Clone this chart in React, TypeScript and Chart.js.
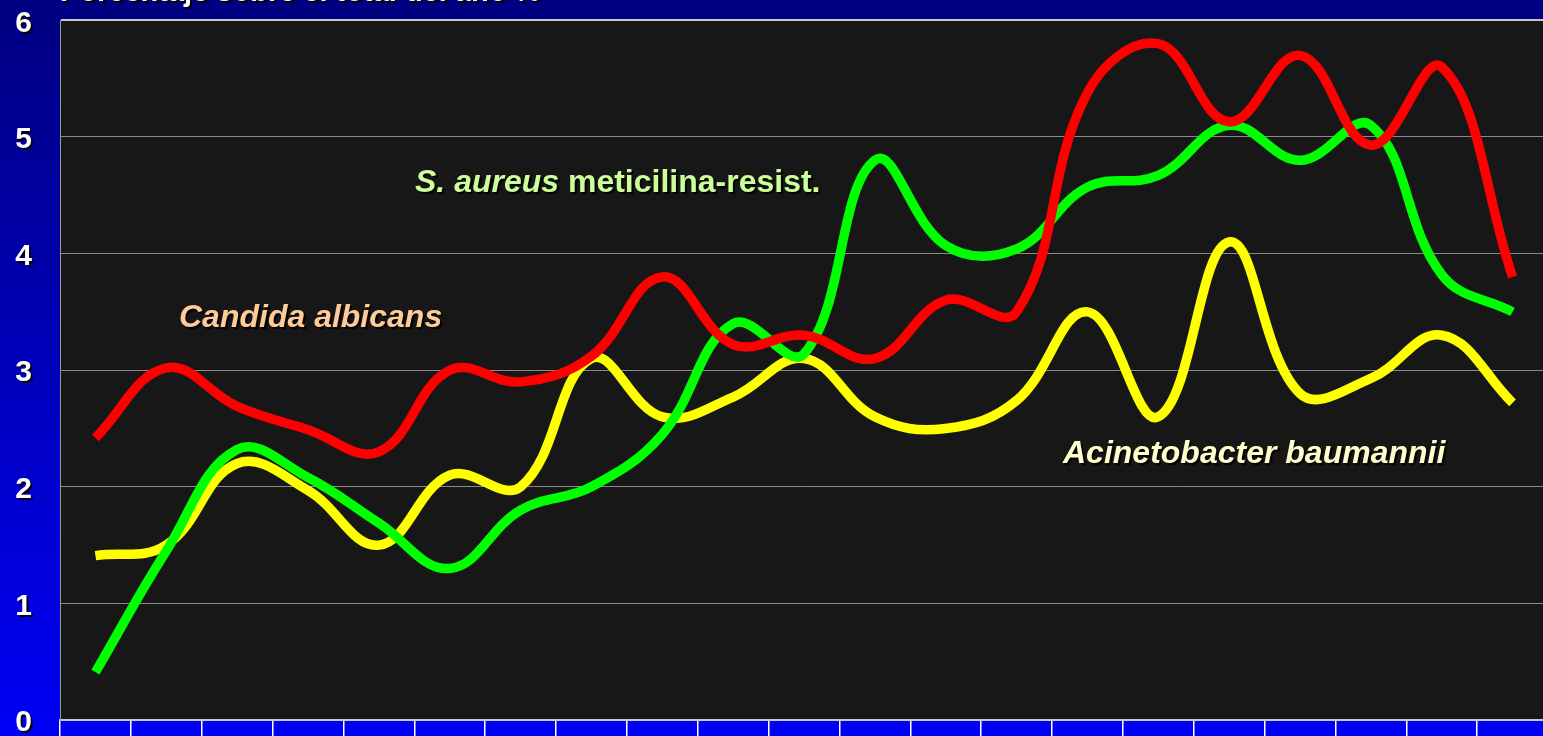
import React, { useEffect, useRef } from 'react';
import { Chart, registerables } from 'chart.js';

Chart.register(...registerables);

// x categories (labels are cropped out of the reference picture)
const categories = ['1', '2', '3', '4', '5', '6', '7', '8', '9', '10', '11', '12', '13', '14', '15', '16', '17', '18', '19', '20', '21'];

// Percentage of the year's total
const candidaAlbicans = [2.42, 3.02, 2.69, 2.49, 2.3, 3.0, 2.9, 3.12, 3.8, 3.22, 3.3, 3.1, 3.6, 3.5, 5.38, 5.8, 5.13, 5.7, 4.93, 5.6, 3.8];
const sAureusMR = [0.41, 1.45, 2.32, 2.08, 1.69, 1.3, 1.8, 2.0, 2.45, 3.4, 3.14, 4.8, 4.07, 4.04, 4.57, 4.67, 5.1, 4.8, 5.1, 3.82, 3.5];
const acinetobacter = [1.41, 1.5, 2.2, 1.97, 1.5, 2.1, 2.0, 3.1, 2.6, 2.77, 3.1, 2.6, 2.5, 2.74, 3.5, 2.6, 4.1, 2.8, 2.93, 3.3, 2.72];

const yMin = 0;
const yMax = 6;
const yStep = 1;

const titleText = 'Porcentaje sobre el total del año %';
const labelCandida = 'Candida albicans';
const labelAureusItalic = 'S. aureus';
const labelAureusRest = ' meticilina-resist.';
const labelAcineto = 'Acinetobacter baumannii';

const FONT = '"Liberation Sans", Arial, Helvetica, sans-serif';
const TOP_SHIFT = 30;
const CANVAS_W = 1548;
const CANVAS_H = 796;

export default function App() {
  const ref = useRef<HTMLCanvasElement>(null);

  useEffect(() => {
    const canvas = ref.current;
    if (!canvas) return;

    const plotBg = {
      id: 'plotBg',
      beforeDraw(chart: any) {
        const { ctx, chartArea: a } = chart;
        ctx.save();
        ctx.fillStyle = '#171717';
        ctx.fillRect(a.left, a.top, a.right - a.left, a.bottom - a.top);
        ctx.restore();
      },
    };

    const shadows = {
      id: 'shadows',
      afterLayout(chart: any) {
        const s = chart.scales.y;
        if (s && !s.__patched) {
          const orig = s.drawLabels.bind(s);
          s.drawLabels = (area: any) => {
            const ctx = chart.ctx;
            ctx.save();
            ctx.shadowColor = 'rgba(0,0,0,0.9)';
            ctx.shadowOffsetX = 2;
            ctx.shadowOffsetY = 2;
            ctx.shadowBlur = 0;
            orig(area);
            ctx.restore();
          };
          s.__patched = true;
        }
        const tb = chart.titleBlock;
        if (tb && !tb.__patched) {
          const origT = tb.draw.bind(tb);
          tb.draw = () => {
            const ctx = chart.ctx;
            ctx.save();
            ctx.shadowColor = 'rgba(0,0,0,0.9)';
            ctx.shadowOffsetX = 2;
            ctx.shadowOffsetY = 2;
            origT();
            ctx.restore();
          };
          tb.__patched = true;
        }
      },
    };

    const annotations = {
      id: 'seriesLabels',
      afterDatasetsDraw(chart: any) {
        const { ctx, chartArea: a } = chart;
        const px = (vx: number) => a.left + (vx - 60);
        const py = (vy: number) => a.top + (vy - 20.5);
        ctx.save();
        ctx.shadowColor = 'rgba(0,0,0,0.9)';
        ctx.shadowOffsetX = 2;
        ctx.shadowOffsetY = 2;
        ctx.shadowBlur = 1;
        ctx.textAlign = 'left';
        ctx.textBaseline = 'alphabetic';

        ctx.font = `italic bold 32px ${FONT}`;
        ctx.fillStyle = '#ffcc99';
        ctx.fillText(labelCandida, px(179), py(327));

        ctx.fillStyle = '#ccff99';
        ctx.font = `italic bold 32px ${FONT}`;
        ctx.fillText(labelAureusItalic, px(415), py(192));
        const w = ctx.measureText(labelAureusItalic).width;
        ctx.font = `bold 32px ${FONT}`;
        ctx.fillText(labelAureusRest, px(415) + w, py(192));

        ctx.font = `italic bold 32px ${FONT}`;
        ctx.fillStyle = '#ffffcc';
        ctx.fillText(labelAcineto, px(1063), py(463));
        ctx.restore();
      },
    };

    const chart = new Chart(canvas, {
      type: 'line',
      data: {
        labels: categories,
        datasets: [
          { label: labelCandida, data: candidaAlbicans, borderColor: '#ff0000', backgroundColor: '#ff0000' },
          { label: 'S. aureus meticilina-resist.', data: sAureusMR, borderColor: '#00ff00', backgroundColor: '#00ff00' },
          { label: labelAcineto, data: acinetobacter, borderColor: '#ffff00', backgroundColor: '#ffff00' },
        ],
      },
      options: {
        responsive: false,
        animation: false,
        devicePixelRatio: 1,
        layout: { padding: 0 },
        elements: {
          point: { radius: 0, hoverRadius: 0 },
          line: { tension: 0.4, borderWidth: 9.5, borderCapStyle: 'butt', borderJoinStyle: 'round', fill: false },
        },
        plugins: {
          legend: { display: false },
          tooltip: { enabled: false },
          title: {
            display: true,
            text: titleText,
            align: 'start',
            fullSize: false,
            color: '#ffffff',
            font: { family: FONT, size: 29, weight: 'bold' },
            padding: { top: 5.5, bottom: 10.1 },
          },
        },
        scales: {
          x: {
            type: 'category',
            offset: true,
            afterFit(s: any) {
              s.height = 40;
            },
            grid: {
              offset: true,
              drawOnChartArea: false,
              drawTicks: true,
              tickLength: 40,
              color: '#ffffff',
              lineWidth: 1.5,
            },
            border: { display: true, color: '#c8c8c8', width: 2 },
            ticks: { display: false },
          },
          y: {
            min: yMin,
            max: yMax,
            afterFit(s: any) {
              s.width = 60;
            },
            ticks: {
              stepSize: yStep,
              color: '#ffffff',
              padding: 28,
              labelOffset: 3,
              font: { family: FONT, size: 30, weight: 'bold' },
            },
            grid: {
              drawTicks: false,
              color: (c: any) => (c.tick && c.tick.value === yMax ? '#c8c8c8' : '#8a8a8a'),
              lineWidth: (c: any) => (c.tick && c.tick.value === yMax ? 2 : 1),
            },
            border: { display: true, color: '#9a9a9a', width: 1 },
          },
        },
      } as any,
      plugins: [plotBg, shadows, annotations],
    });

    return () => chart.destroy();
  }, []);

  return (
    <div
      style={{
        position: 'fixed',
        left: 0,
        top: 0,
        width: 1543,
        height: 736,
        overflow: 'hidden',
        background: 'linear-gradient(to bottom, #000080 0%, #0000f5 100%)',
      }}
    >
      <canvas
        ref={ref}
        width={CANVAS_W}
        height={CANVAS_H}
        style={{ position: 'absolute', left: 0, top: -TOP_SHIFT, width: CANVAS_W, height: CANVAS_H }}
      />
    </div>
  );
}
